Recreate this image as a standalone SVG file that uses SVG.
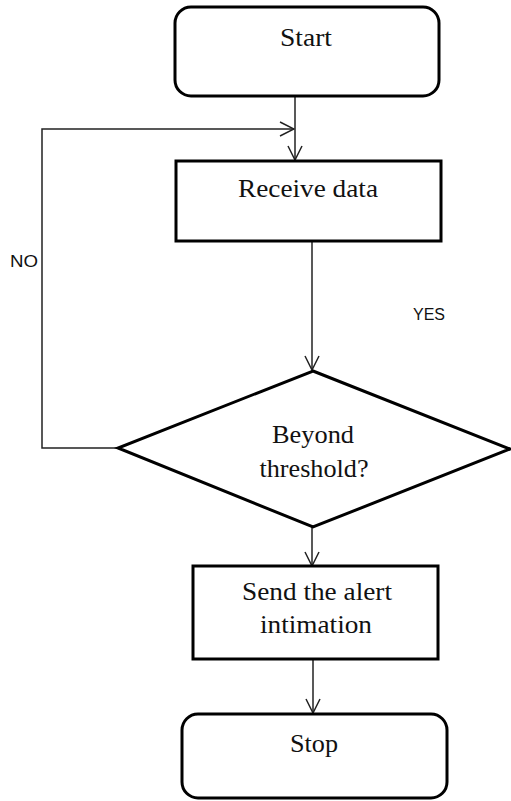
<svg xmlns="http://www.w3.org/2000/svg" width="511" height="801" viewBox="0 0 511 801">
<style>
.box{fill:#fff;stroke:#000;stroke-width:3}
.lbl{font-family:"Liberation Serif","Times New Roman",serif;font-size:25px;fill:#111;text-anchor:middle}
.side{font-family:"Liberation Sans",Arial,sans-serif;font-size:16px;fill:#111}
.con{fill:none;stroke:#222;stroke-width:1.5}
</style>
<defs>
<marker id="arr" viewBox="0 0 16 16" refX="15" refY="8" markerWidth="16" markerHeight="16" markerUnits="userSpaceOnUse" orient="auto">
<path d="M1,1 L15,8 L1,15" fill="none" stroke="#222" stroke-width="1.5"/>
</marker>
</defs>
<rect width="511" height="801" fill="#fff"/>
<g id="connectors">
<path class="con" d="M295,97 L295,160" marker-end="url(#arr)"/>
<path class="con" d="M118,448 L42,448 L42,129 L294,129" marker-end="url(#arr)"/>
<path class="con" d="M312,242 L312,370" marker-end="url(#arr)"/>
<path class="con" d="M312,527 L312,566" marker-end="url(#arr)"/>
<path class="con" d="M313,660 L313,713" marker-end="url(#arr)"/>
</g>
<g id="start">
<rect class="box" x="175" y="7" width="264" height="89" rx="16"/>
<text class="lbl" x="306" y="46" textLength="52" lengthAdjust="spacingAndGlyphs">Start</text>
</g>
<g id="receive">
<rect class="box" x="176" y="161" width="265" height="80"/>
<text class="lbl" x="308" y="197" textLength="140" lengthAdjust="spacingAndGlyphs">Receive data</text>
</g>
<g id="decision">
<polygon class="box" points="313,371 510,449 313,527 118,448"/>
<text class="lbl" x="313" y="443" textLength="82" lengthAdjust="spacingAndGlyphs">Beyond</text>
<text class="lbl" x="314" y="477" textLength="109" lengthAdjust="spacingAndGlyphs">threshold?</text>
</g>
<g id="send">
<rect class="box" x="193" y="566" width="245" height="93"/>
<text class="lbl" x="317" y="600" textLength="150" lengthAdjust="spacingAndGlyphs">Send the alert</text>
<text class="lbl" x="316" y="633" textLength="112" lengthAdjust="spacingAndGlyphs">intimation</text>
</g>
<g id="stop">
<rect class="box" x="182" y="714" width="265" height="84" rx="16"/>
<text class="lbl" x="314" y="752" textLength="48" lengthAdjust="spacingAndGlyphs">Stop</text>
</g>
<g id="labels">
<text class="side" x="10" y="267" textLength="28" lengthAdjust="spacingAndGlyphs">NO</text>
<text class="side" x="413" y="320" textLength="32" lengthAdjust="spacingAndGlyphs">YES</text>
</g>
</svg>
